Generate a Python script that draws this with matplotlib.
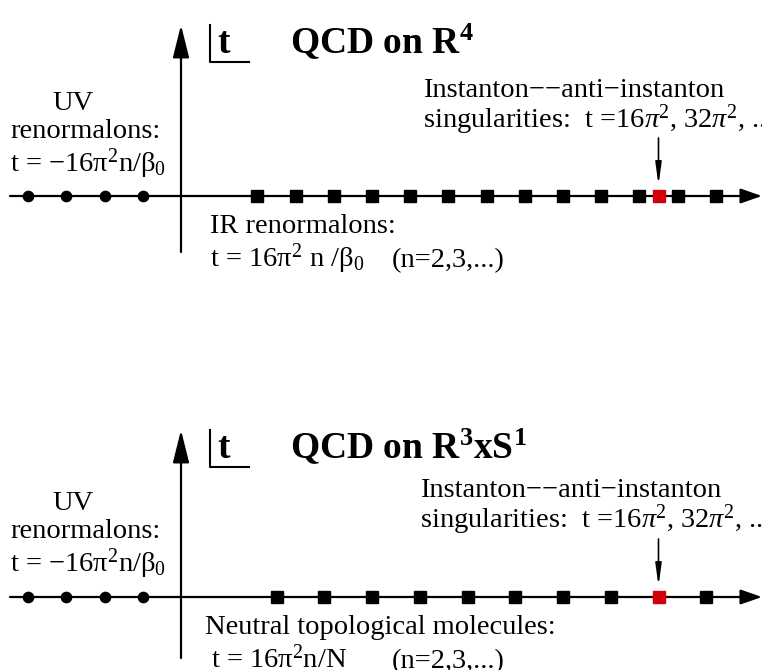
import matplotlib
matplotlib.use("Agg")
import matplotlib.pyplot as plt

plt.rcParams['font.family'] = ['Liberation Serif', 'DejaVu Serif']
plt.rcParams['mathtext.fontset'] = 'custom'
plt.rcParams['mathtext.rm'] = 'Liberation Serif'
plt.rcParams['mathtext.it'] = 'Liberation Serif:italic'
plt.rcParams['mathtext.bf'] = 'Liberation Serif:bold'

# ---- data (in units of 16*pi^2/beta0 on the t axis) ----
uv_renormalons = [-4, -3, -2, -1]
ir_renormalons = [2, 3, 4, 5, 6, 7, 8, 9, 10, 11, 12, 13, 14]
instanton_top = [12.5]
molecules_n = [2, 3, 4, 5, 6, 7, 8, 9, 11]
molecule_step = 1.25
instanton_bottom = [12.5]

panel_titles = [r"QCD on R$^{\mathbf{4}}$", r"QCD on R$^{\mathbf{3}}$xS$^{\mathbf{1}}$"]

# ---- layout ----
W, H = 762, 670
X0, UNIT = 181.0, 38.2


def u(px):
    return (px - X0) / UNIT


fig = plt.figure(figsize=(W / 100, H / 100), dpi=100)
ax = fig.add_axes([0, 0, 1, 1])
ax.set_xlim(u(0), u(W))
ax.set_ylim(H, 0)
ax.axis('off')

FS = 20.5


def panel(y_axis, y_top, y_bot, title, right_pts, red_pts, lower1, lower1_x, lower2, lower2_x,
          paren_x, off, ix):
    # horizontal axis with arrow
    ax.annotate('', xy=(u(762), y_axis), xytext=(u(10), y_axis),
                arrowprops=dict(arrowstyle='-|>,head_length=1.3,head_width=0.45', lw=1.6,
                                color='black', shrinkA=0, shrinkB=0))
    # vertical axis
    ax.annotate('', xy=(0, y_top), xytext=(0, y_bot),
                arrowprops=dict(arrowstyle='-|>,head_length=2.0,head_width=0.5', lw=1.6,
                                color='black', shrinkA=0, shrinkB=0))
    # t box
    ax.plot([u(210), u(210), u(249)], [y_top, y_top + 37, y_top + 37], color='black', lw=1.5)
    ax.text(u(217), y_top + 28, 't', fontsize=27, fontweight='bold', va='baseline', ha='left')
    ax.text(u(290), y_top + 28, title, fontsize=27, fontweight='bold', va='baseline', ha='left')
    # UV text
    ax.text(u(73), off + 110, 'UV', fontsize=FS, ha='center', va='baseline')
    ax.text(u(10), off + 138, 'renormalons:', fontsize=FS, ha='left', va='baseline')
    ax.text(u(10), off + 172, r't = $-$16π$^2$n/β$_0$', fontsize=FS, ha='left', va='baseline')
    # markers
    ax.plot(uv_renormalons, [y_axis] * len(uv_renormalons), 'o', color='black', ms=7.4,
            zorder=3)
    ax.plot(right_pts, [y_axis] * len(right_pts), 's', color='black', ms=8.4, zorder=3)
    ax.plot(red_pts, [y_axis] * len(red_pts), 's', color='#d2000c', ms=8.0, zorder=3)
    # instanton text
    ax.text(u(ix), off + 97, 'Instanton−−anti−instanton', fontsize=FS,
            ha='left', va='baseline')
    ax.text(u(ix), off + 128,
            r'singularities:  t =16$\mathit{π}$$^2$, 32$\mathit{π}$$^2$, ...', fontsize=FS,
            ha='left', va='baseline')
    ax.annotate('', xy=(red_pts[0], y_axis - 11), xytext=(red_pts[0], y_axis - 58),
                arrowprops=dict(arrowstyle='-|>,head_length=1.3,head_width=0.18', lw=1.2,
                                color='black', shrinkA=0, shrinkB=0))
    # lower texts
    ax.text(u(lower1_x), y_axis + 37, lower1, fontsize=FS, ha='left', va='baseline')
    ax.text(u(lower2_x), y_axis + 71, lower2, fontsize=FS, ha='left', va='baseline')
    ax.text(u(paren_x), y_axis + 71, '(n=2,3,...)', fontsize=FS, ha='left', va='baseline')


panel(196, 25, 252, panel_titles[0], ir_renormalons, instanton_top,
      'IR renormalons:', 210, r't = 16π$^2$ n /β$_0$', 210, 392, 0, 423)

mol = [n * molecule_step for n in molecules_n]
panel(597, 430, 658, panel_titles[1], mol, instanton_bottom,
      'Neutral topological molecules:', 205, r't = 16π$^2$n/N', 211, 392, 400, 420)

fig.savefig('out.png', dpi=100)
